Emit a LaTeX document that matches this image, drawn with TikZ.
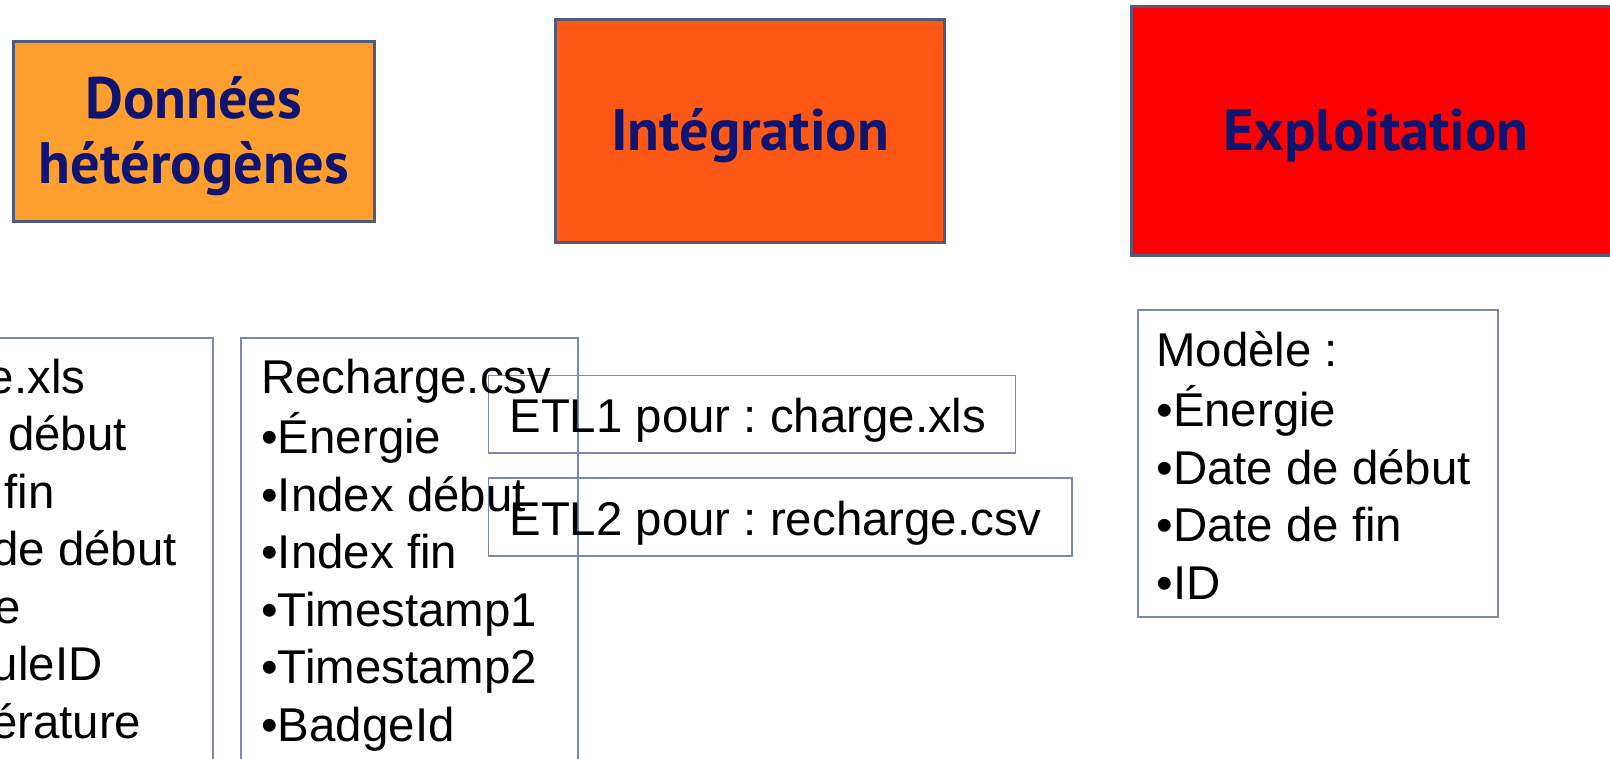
\documentclass[tikz,border=0pt]{standalone}
\usepackage{fontspec}
\setmainfont{Liberation Sans}
\newfontfamily\stagefont{PT Sans}
\usetikzlibrary{positioning}
\frenchspacing

\definecolor{stageline}{HTML}{4F5A7E}
\definecolor{stagetext}{HTML}{0F1470}
\definecolor{sourcefill}{HTML}{FF9F2F}
\definecolor{integfill}{HTML}{FD5816}
\definecolor{exploitfill}{HTML}{FF0000}
\definecolor{listline}{HTML}{7E86B6}

\begin{document}
\begin{tikzpicture}
        [x = 0.5pt, y = -0.5pt, inner sep = 0pt,
        stage/.style = {rectangle, draw=stageline, line width=1.5pt},
        stagetitle/.style = {text=stagetext, align=center,
                        font=\stagefont\bfseries\fontsize{29.2}{32.5}\selectfont},
        frame/.style = {rectangle, draw=listline, line width=0.75pt, anchor=north west},
        list/.style = {align=left, anchor=north west, font=\fontsize{23.7}{28.75}\selectfont}]

        %% canvas
        \useasboundingbox (0,0) rectangle (1610,759);
        \clip (0,0) rectangle (1610,759);

        %% the three stages
        \node[stage, fill=sourcefill, minimum width=180.5pt, minimum height=89.75pt] (sources) at (194,131.75) {};
        \node[stage, fill=integfill, minimum width=194.5pt, minimum height=111.5pt] (integration) at (750,131) {};
        \node[stage, fill=exploitfill, minimum width=244.5pt, minimum height=124.5pt] (exploitation) at (1376,131) {};

        \node[stagetitle, anchor=north] (sourcestitle) at (194,72.5) {\strut Données\\hétérogènes};
        \node[stagetitle, anchor=base] (integrationtitle) at (750,151) {Intégration};
        \node[stagetitle, anchor=base] (exploitationtitle) at (1376,151) {Exploitation};

        %% frames
        \node[frame, minimum width=162pt, minimum height=241.5pt] (chargebox) at (-112,337) {};
        \node[frame, minimum width=168.5pt, minimum height=241.5pt] (rechargebox) at (240,337) {};
        \node[frame, minimum width=263.5pt, minimum height=38.75pt] (etlonebox) at (487.5,374.5) {};
        \node[frame, minimum width=291.75pt, minimum height=39pt] (etltwobox) at (487.5,477) {};
        \node[frame, minimum width=180pt, minimum height=153.5pt] (modelbox) at (1137,309) {};

        %% texts
        \node[list] (charge) at (0,352.75)
                {\strut\hspace*{-6.3pt}e.xls\\ \hspace*{3.9pt}début\\ \hspace*{2pt}fin\\
                 \hspace*{-4pt}de début\\ \hspace*{-3pt}e\\ \hspace*{-4.3pt}uleID\\ \hspace*{-4.7pt}érature};
        \node[list] (recharge) at (261,352.75)
                {\strut Recharge.csv\\•Énergie\\•Index début\\•Index fin\\•Timestamp1\\•Timestamp2\\•BadgeId};
        \node[list, anchor=base west] (etlone) at (509,432) {ETL1 pour : charge.xls};
        \node[list, anchor=base west] (etltwo) at (509,535) {ETL2 pour : recharge.csv};
        \node[list] (model) at (1156,325.75)
                {\strut Modèle :\\•Énergie\\•Date de début\\•Date de fin\\•ID};
    \end{tikzpicture}
\end{document}
